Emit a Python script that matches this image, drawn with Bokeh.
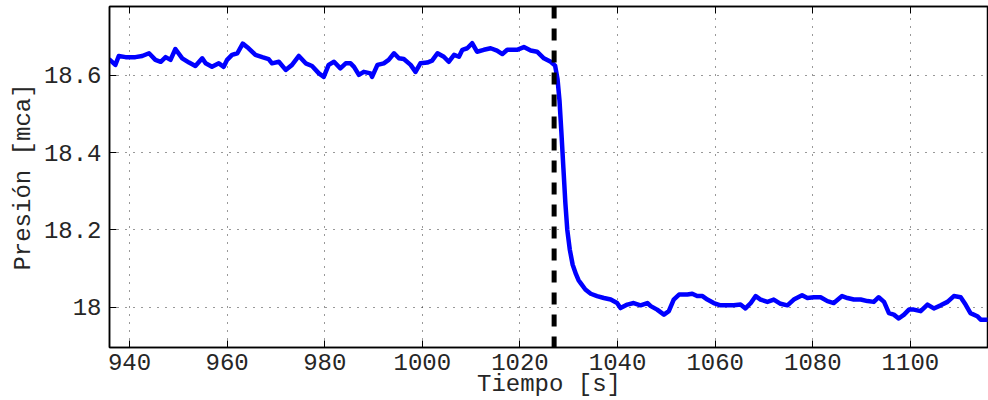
from bokeh.plotting import figure
from bokeh.models import Range1d, FixedTicker, LinearAxis, Span, CustomJSTickFormatter
from bokeh.embed import file_html
from bokeh.resources import INLINE

# ---- data ----
time_s = [
    935.8, 937.1, 937.8, 939.2, 941.2, 942.6, 944.0, 945.3, 946.4, 947.4, 948.4, 949.4,
    950.8, 952.2, 953.5, 954.9, 955.6, 956.9, 958.3, 959.3, 960.0, 961.0, 962.1, 963.2,
    964.4, 965.8, 967.2, 968.5, 969.2, 970.6, 972.0, 973.3, 974.7, 976.1, 977.4, 978.8,
    979.8, 980.8, 981.9, 983.2, 984.3, 985.3, 986.0, 987.0, 988.0, 989.4, 989.7, 990.8,
    992.1, 993.1, 994.2, 995.2, 996.2, 997.6, 998.6, 999.6, 1001.0, 1002.0, 1003.1, 1004.4,
    1005.4, 1006.5, 1007.5, 1008.2, 1009.2, 1010.2, 1011.2, 1012.6, 1014.0, 1015.3, 1016.4,
    1017.4, 1019.4, 1020.8, 1022.2, 1023.5, 1024.9, 1026.3,
    1027.2, 1027.7, 1028.1, 1028.5, 1028.9, 1029.3, 1029.7, 1030.2, 1030.8, 1031.5, 1032.0,
    1032.4, 1033.4, 1034.5, 1035.8, 1037.2, 1038.6, 1039.9, 1040.6, 1042.0, 1043.3, 1044.7,
    1046.1, 1046.8, 1048.1, 1049.5, 1050.5, 1051.5, 1052.6, 1054.3, 1055.3, 1056.3, 1057.4,
    1058.4, 1059.7, 1061.1, 1062.5, 1063.8, 1065.2, 1066.2, 1067.3, 1068.3, 1069.3, 1070.7,
    1072.0, 1073.4, 1074.8, 1076.1, 1077.8, 1078.9, 1080.2, 1081.6, 1083.0, 1084.3, 1086.0,
    1087.1, 1088.4, 1089.8, 1091.2, 1092.5, 1093.5, 1094.6, 1095.6, 1096.6, 1097.6, 1098.7,
    1099.7, 1100.7, 1102.1, 1103.5, 1104.8, 1106.2, 1107.6, 1108.9, 1110.3, 1111.3, 1112.3,
    1113.7, 1114.4, 1115.8,
]
pressure_mca = [
    18.642, 18.627, 18.650, 18.647, 18.647, 18.650, 18.657, 18.640, 18.635, 18.647, 18.640, 18.668,
    18.644, 18.633, 18.624, 18.644, 18.631, 18.622, 18.631, 18.622, 18.640, 18.653, 18.657, 18.682,
    18.670, 18.653, 18.647, 18.642, 18.631, 18.635, 18.614, 18.627, 18.650, 18.631, 18.624, 18.605,
    18.596, 18.627, 18.635, 18.618, 18.631, 18.631, 18.622, 18.601, 18.609, 18.605, 18.596, 18.627,
    18.631, 18.640, 18.657, 18.644, 18.642, 18.627, 18.609, 18.631, 18.633, 18.638, 18.657, 18.648,
    18.635, 18.653, 18.648, 18.666, 18.670, 18.683, 18.661, 18.666, 18.670, 18.664, 18.655,
    18.666, 18.666, 18.673, 18.664, 18.661, 18.644, 18.635,
    18.625, 18.590, 18.535, 18.450, 18.360, 18.270, 18.200, 18.150, 18.110, 18.085, 18.070,
    18.063, 18.046, 18.035, 18.029, 18.024, 18.020, 18.011, 17.998, 18.007, 18.011, 18.005,
    18.011, 18.003, 17.994, 17.981, 17.990, 18.020, 18.033, 18.033, 18.035, 18.029, 18.029,
    18.020, 18.011, 18.005, 18.005, 18.005, 18.007, 17.997, 18.011, 18.029, 18.020, 18.014,
    18.020, 18.009, 18.005, 18.020, 18.031, 18.024, 18.026, 18.026, 18.016, 18.011, 18.029,
    18.024, 18.020, 18.020, 18.016, 18.014, 18.026, 18.014, 17.985, 17.981, 17.971, 17.981,
    17.994, 17.994, 17.990, 18.007, 17.997, 18.005, 18.014, 18.029, 18.026, 18.007, 17.985,
    17.977, 17.968, 17.968,
]
event_time = 1027.0

x_ticks = [940, 960, 980, 1000, 1020, 1040, 1060, 1080, 1100]
y_ticks = [18.0, 18.2, 18.4, 18.6]
y_tick_labels = ["18", "18.2", "18.4", "18.6"]

FONT = "Liberation Mono"
FS = "24px"
TXT = "#262626"

p = figure(width=988, height=400, output_backend="svg", toolbar_location=None,
           x_range=Range1d(935.9, 1116.0), y_range=Range1d(17.896, 18.778),
           min_border_left=109, min_border_right=0, min_border_top=6, min_border_bottom=0)

p.outline_line_color = "black"
p.outline_line_width = 1.5
p.background_fill_color = "white"

# main axes
xa = p.xaxis[0]
ya = p.yaxis[0]
xa.ticker = FixedTicker(ticks=x_ticks)
ya.ticker = FixedTicker(ticks=y_ticks)
ya.major_label_overrides = {t: l for t, l in zip(y_ticks, y_tick_labels)}
xa.axis_label = "Tiempo [s]"
ya.axis_label = "Presión [mca]"
for ax in (xa, ya):
    ax.major_tick_in = 7
    ax.major_tick_out = 0
    ax.minor_tick_line_color = None
    ax.axis_line_color = "black"
    ax.axis_line_width = 1.5
    ax.major_tick_line_color = "black"
    ax.major_label_text_font = FONT
    ax.major_label_text_font_size = FS
    ax.major_label_text_color = TXT
    ax.axis_label_text_font = FONT
    ax.axis_label_text_font_size = FS
    ax.axis_label_text_font_style = "normal"
    ax.axis_label_text_color = TXT
xa.major_label_standoff = 6
xa.axis_label_standoff = -2
ya.major_label_standoff = 8
ya.axis_label_standoff = 4

# top axis with ticks only
top = LinearAxis(ticker=FixedTicker(ticks=x_ticks),
                 formatter=CustomJSTickFormatter(code="return ''"))
top.major_tick_in = 7
top.major_tick_out = 0
top.minor_tick_line_color = None
top.axis_line_color = "black"
top.axis_line_width = 1.5
top.major_label_text_font_size = "0px"
top.major_label_standoff = 0
p.add_layout(top, "above")

# grid
p.xgrid.ticker = FixedTicker(ticks=x_ticks)
p.ygrid.ticker = FixedTicker(ticks=y_ticks)
for g in (p.xgrid[0], p.ygrid[0]):
    g.grid_line_color = "#000000"
    g.grid_line_alpha = 0.8
    g.grid_line_width = 1
    g.grid_line_dash = "1 7"

p.line(time_s, pressure_mca, line_color="#0000ff", line_width=4.5, line_join="round")

p.add_layout(Span(location=event_time, dimension="height", line_color="black",
                  line_width=5, line_dash="12 10"))

open("out.html", "w").write(file_html(p, INLINE))
